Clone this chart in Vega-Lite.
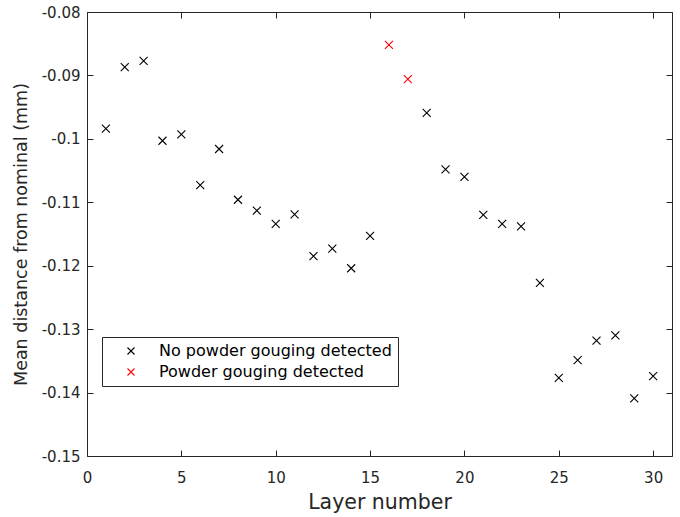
{
  "$schema": "https://vega.github.io/schema/vega-lite/v6.json",
  "width": 585,
  "height": 444,
  "autosize": "none",
  "padding": {"left": 87, "top": 12, "right": 8, "bottom": 61},
  "background": "white",
  "config": {
    "font": "DejaVu Sans",
    "view": {"stroke": "#262626", "strokeWidth": 1},
    "axis": {
      "grid": false,
      "domain": false,
      "tickColor": "#262626",
      "tickSize": -6,
      "labelColor": "#262626",
      "titleColor": "#262626",
      "labelFontSize": 15,
      "titleFontWeight": "normal",
      "labelFlush": false,
      "labelFont": "DejaVu Sans",
      "titleFont": "DejaVu Sans"
    }
  },
  "data": {
    "values": [
      {"layer": 1, "dist": -0.0984, "status": "No powder gouging detected"},
      {"layer": 2, "dist": -0.0887, "status": "No powder gouging detected"},
      {"layer": 3, "dist": -0.0877, "status": "No powder gouging detected"},
      {"layer": 4, "dist": -0.1003, "status": "No powder gouging detected"},
      {"layer": 5, "dist": -0.0993, "status": "No powder gouging detected"},
      {"layer": 6, "dist": -0.1073, "status": "No powder gouging detected"},
      {"layer": 7, "dist": -0.1016, "status": "No powder gouging detected"},
      {"layer": 8, "dist": -0.1096, "status": "No powder gouging detected"},
      {"layer": 9, "dist": -0.1113, "status": "No powder gouging detected"},
      {"layer": 10, "dist": -0.1134, "status": "No powder gouging detected"},
      {"layer": 11, "dist": -0.1119, "status": "No powder gouging detected"},
      {"layer": 12, "dist": -0.1185, "status": "No powder gouging detected"},
      {"layer": 13, "dist": -0.1173, "status": "No powder gouging detected"},
      {"layer": 14, "dist": -0.1204, "status": "No powder gouging detected"},
      {"layer": 15, "dist": -0.1153, "status": "No powder gouging detected"},
      {"layer": 16, "dist": -0.0852, "status": "Powder gouging detected"},
      {"layer": 17, "dist": -0.0906, "status": "Powder gouging detected"},
      {"layer": 18, "dist": -0.0959, "status": "No powder gouging detected"},
      {"layer": 19, "dist": -0.1048, "status": "No powder gouging detected"},
      {"layer": 20, "dist": -0.1060, "status": "No powder gouging detected"},
      {"layer": 21, "dist": -0.1120, "status": "No powder gouging detected"},
      {"layer": 22, "dist": -0.1134, "status": "No powder gouging detected"},
      {"layer": 23, "dist": -0.1138, "status": "No powder gouging detected"},
      {"layer": 24, "dist": -0.1227, "status": "No powder gouging detected"},
      {"layer": 25, "dist": -0.1377, "status": "No powder gouging detected"},
      {"layer": 26, "dist": -0.1349, "status": "No powder gouging detected"},
      {"layer": 27, "dist": -0.1318, "status": "No powder gouging detected"},
      {"layer": 28, "dist": -0.1310, "status": "No powder gouging detected"},
      {"layer": 29, "dist": -0.1409, "status": "No powder gouging detected"},
      {"layer": 30, "dist": -0.1374, "status": "No powder gouging detected"}
    ]
  },
  "layer": [
    {
      "mark": {
        "type": "point",
        "shape": "M-1,-1L1,1M-1,1L1,-1",
        "filled": false,
        "size": 64,
        "strokeWidth": 1.1,
        "opacity": 1
      },
      "encoding": {
        "x": {
          "field": "layer",
          "type": "quantitative",
          "scale": {"domain": [0, 31], "nice": false, "zero": false},
          "axis": {"values": [0, 5, 10, 15, 20, 25, 30], "title": "Layer number", "titleFontSize": 20.5, "labelPadding": 20, "titlePadding": 7, "orient": "bottom"}
        },
        "y": {
          "field": "dist",
          "type": "quantitative",
          "scale": {"domain": [-0.15, -0.08], "nice": false, "zero": false},
          "axis": {
            "values": [-0.15, -0.14, -0.13, -0.12, -0.11, -0.1, -0.09, -0.08],
            "labelExpr": "replace(format(datum.value, '~g'), '\u2212', '-')",
            "title": "Mean distance from nominal (mm)",
            "titleFontSize": 17.5,
            "labelPadding": 13,
            "titlePadding": 11,
            "orient": "left"
          }
        },
        "color": {
          "field": "status",
          "type": "nominal",
          "scale": {"domain": ["No powder gouging detected", "Powder gouging detected"], "range": ["#000000", "#ff0000"]},
          "legend": {
            "title": null,
            "orient": "none",
            "legendX": 15,
            "legendY": 325,
            "direction": "vertical",
            "symbolType": "M-1,-1L1,1M-1,1L1,-1",
            "symbolFillColor": "transparent",
            "symbolStrokeWidth": 1.1,
            "symbolSize": 49,
            "symbolOffset": 15,
            "labelFontSize": 16,
            "labelFont": "DejaVu Sans",
            "labelColor": "#000000",
            "labelLimit": 400,
            "labelOffset": 20,
            "rowPadding": 5,
            "padding": 6,
            "strokeColor": "#262626",
            "fillColor": "white",
            "offset": 0
          }
        }
      }
    },
    {
      "mark": {"type": "point", "opacity": 0},
      "encoding": {
        "x": {
          "field": "layer",
          "type": "quantitative",
          "axis": {"orient": "top", "values": [0, 5, 10, 15, 20, 25, 30], "labels": false, "title": null}
        },
        "y": {
          "field": "dist",
          "type": "quantitative",
          "axis": {"orient": "right", "values": [-0.15, -0.14, -0.13, -0.12, -0.11, -0.1, -0.09, -0.08], "labels": false, "title": null}
        }
      }
    }
  ],
  "resolve": {"axis": {"x": "independent", "y": "independent"}}
}
